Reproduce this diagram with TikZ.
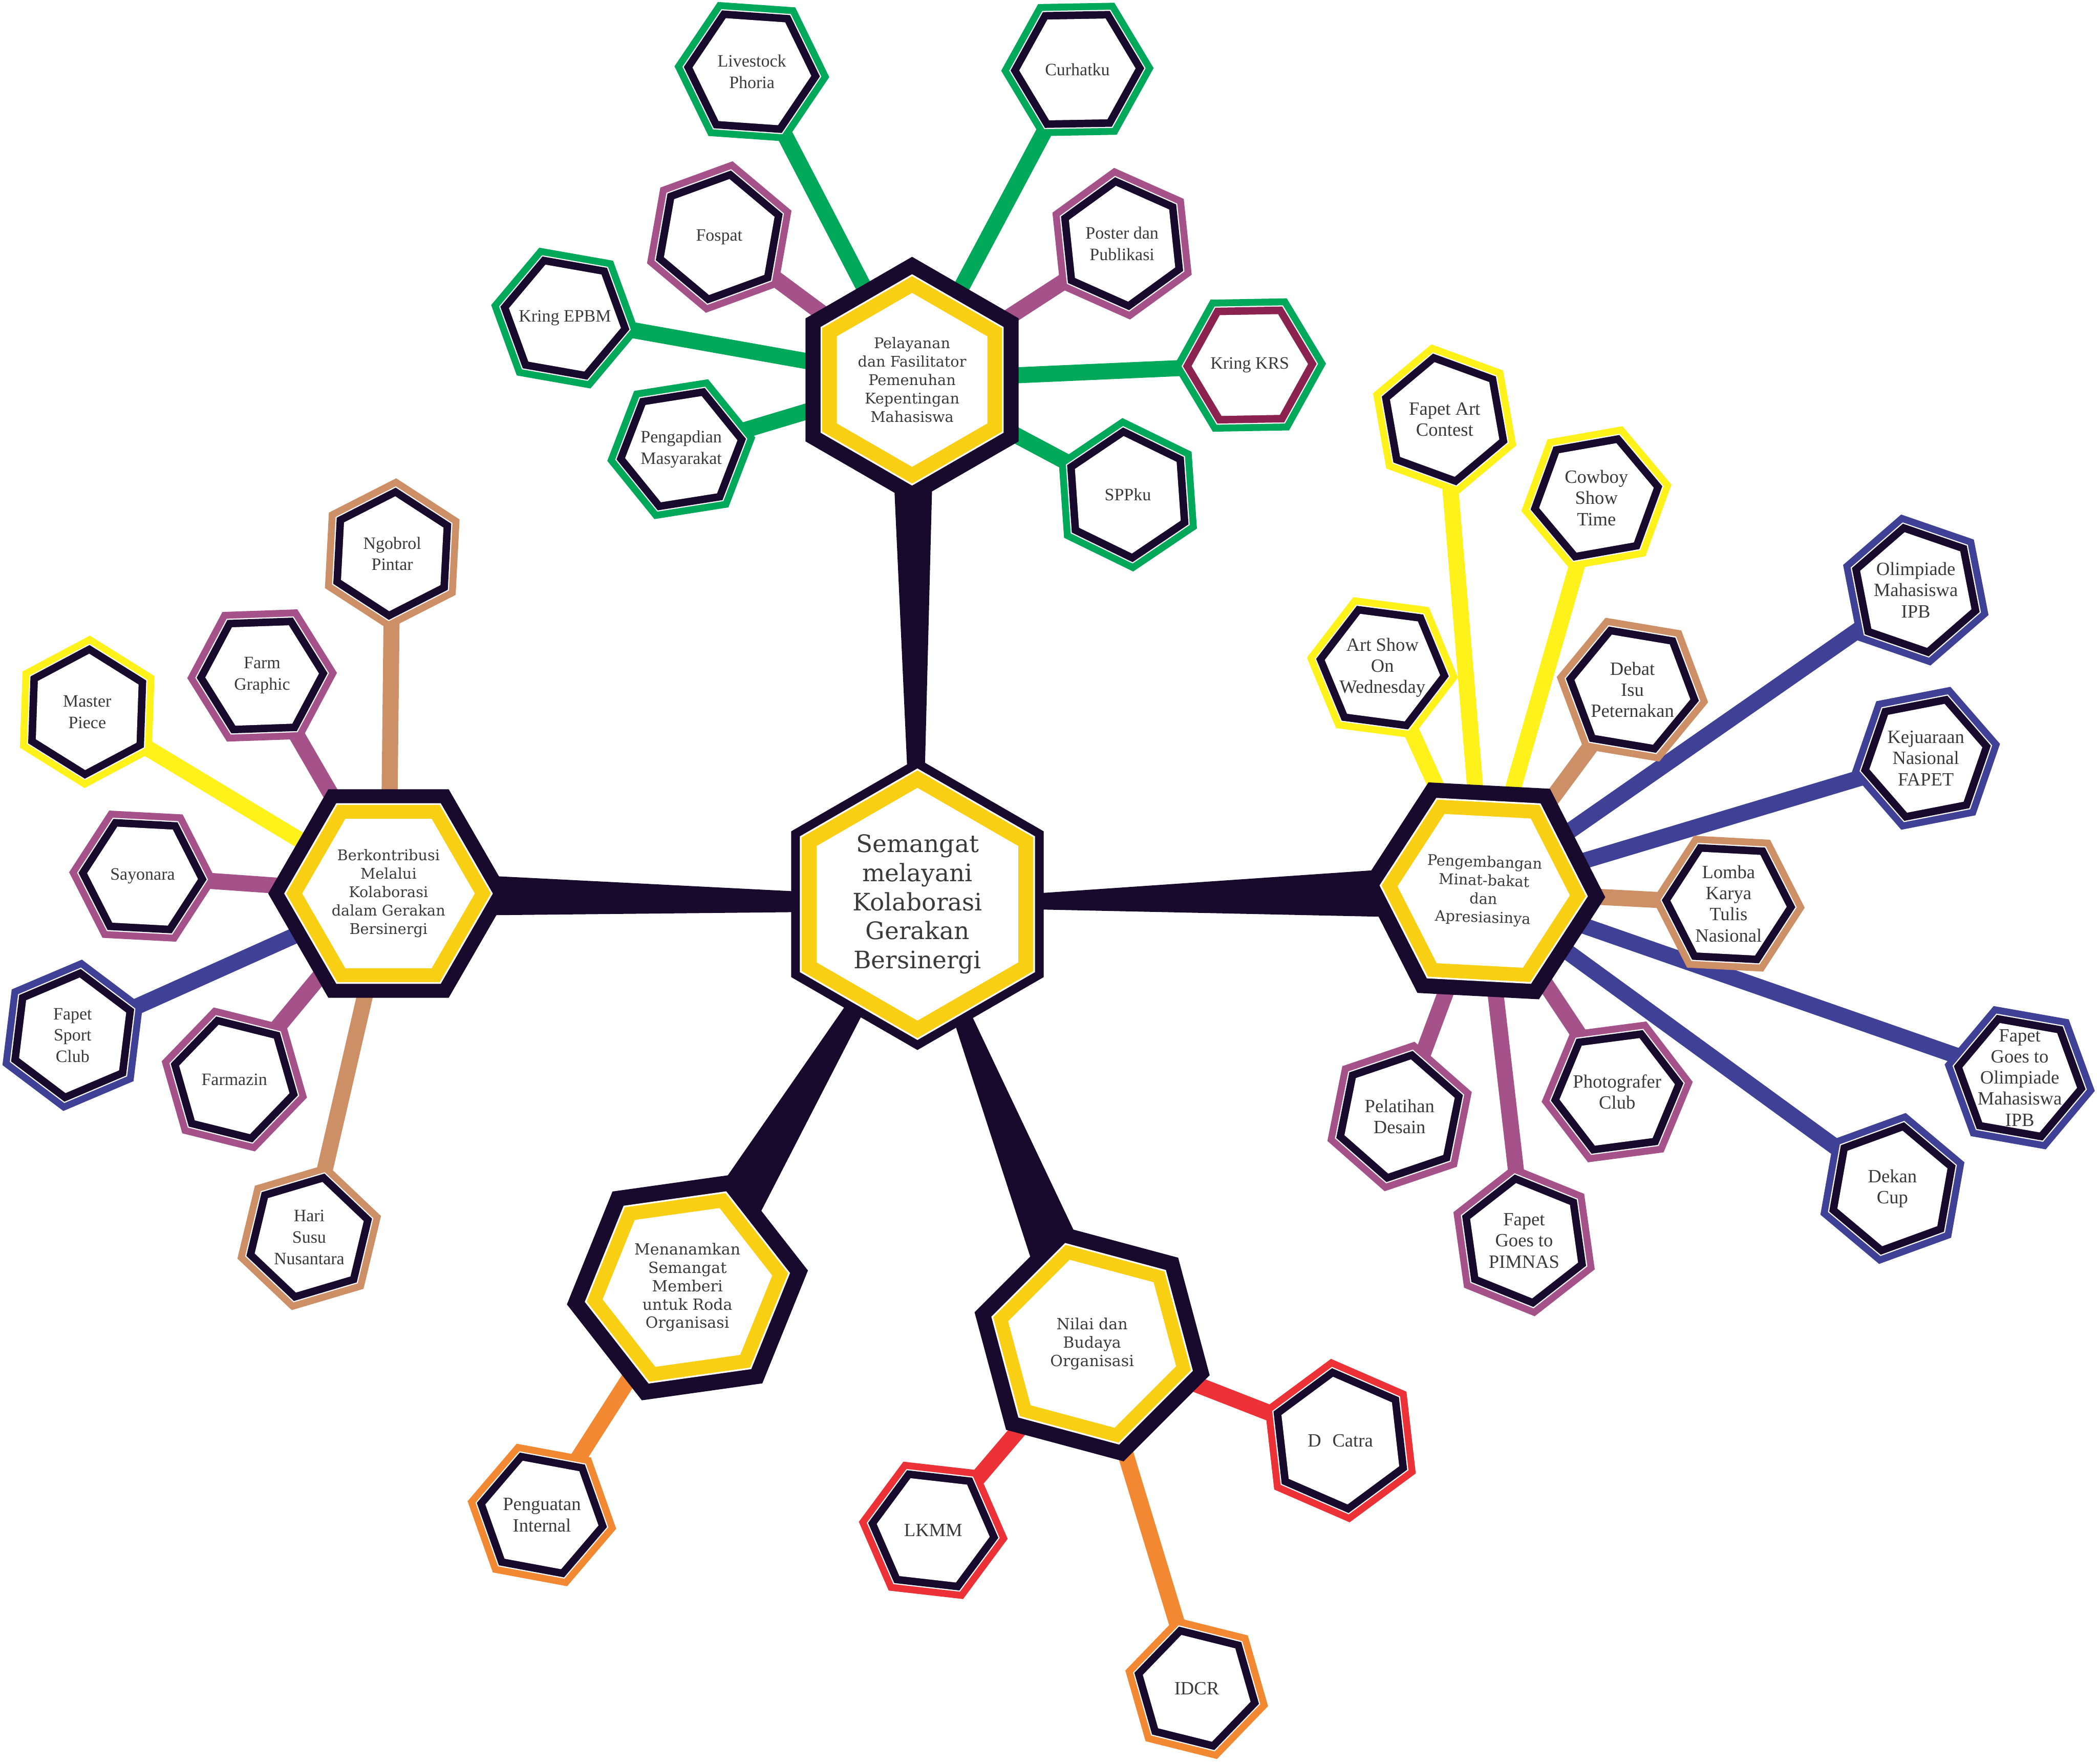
\documentclass[tikz,border=0pt]{standalone}
\usepackage{fontspec}
\setmainfont{Liberation Serif}
\newfontfamily\hubfont{DejaVu Serif}
\usetikzlibrary{shapes.geometric,calc,backgrounds}

\definecolor{hexdark}{HTML}{170A2D}
\definecolor{hubyellow}{HTML}{F9CF13}
\definecolor{kgreen}{HTML}{00A859}
\definecolor{kpurple}{HTML}{A5528A}
\definecolor{ktan}{HTML}{CD8F66}
\definecolor{kyellow}{HTML}{FFF11A}
\definecolor{kblue}{HTML}{3F4196}
\definecolor{kmaroon}{HTML}{8B2250}
\definecolor{korange}{HTML}{F38833}
\definecolor{kred}{HTML}{EC3237}
\definecolor{inktext}{HTML}{3A3A3A}

\tikzset{
  hexa/.style={regular polygon, regular polygon sides=6, inner sep=0pt, outer sep=0pt},
  leaftext/.style={align=center, text=inktext, font=\fontsize{13}{16}\selectfont},
  hubtext/.style={align=center, text=inktext, font=\hubfont\fontsize{11}{13.8}\selectfont},
  link/.style={line width=12pt},
}

% leaf: [band colour]{name}{position}{radius}{rotation}{ring colour}{text}
\newcommand{\leafhex}[7][hexdark]{%
  \node[hexa, rotate=#5, minimum size={#4*2pt}, fill=#6] (#2) at (#3) {};
  \node[hexa, rotate=#5, minimum size={(#4-6)*2pt}, fill=white] (#2-a) at (#3) {};
  \node[hexa, rotate=#5, minimum size={(#4-7)*2pt}, fill=#1] (#2-b) at (#3) {};
  \node[hexa, rotate=#5, minimum size={(#4-13.5)*2pt}, fill=white] (#2-c) at (#3) {};
  \node[leaftext] (#2-t) at (#3) {#7};
}

% hub: [text options]{name}{position}{radius}{rotation}{yellow outer}{yellow inner}{text}
\newcommand{\hubhex}[8][]{%
  \node[hexa, rotate=#5, minimum size={#4*2pt}, fill=hexdark] (#2) at (#3) {};
  \node[hexa, rotate=#5, minimum size={(#6+1.5)*2pt}, fill=white] (#2-a) at (#3) {};
  \node[hexa, rotate=#5, minimum size={#6*2pt}, fill=hubyellow] (#2-b) at (#3) {};
  \node[hexa, rotate=#5, minimum size={#7*2pt}, fill=white] (#2-c) at (#3) {};
  \node[hubtext, #1] (#2-t) at (#3) {#8};
}

% tapered dark spoke between two hubs
\newcommand{\spoke}[4]{%
  \fill[hexdark] ($(#1.center)!#3!90:(#2.center)$) -- ($(#2.center)!#4!-90:(#1.center)$)
    -- ($(#2.center)!#4!90:(#1.center)$) -- ($(#1.center)!#3!-90:(#2.center)$) -- cycle;
}

\begin{document}
\begin{tikzpicture}[x=1pt, y=-1pt]
\useasboundingbox (0,0) rectangle (1568,1318.6);

% hubs
\hubhex[font=\hubfont\fontsize{18}{21.7}\selectfont]{central}{686,676}{109}{30}{100}{87}{Semangat\\melayani\\Kolaborasi\\Gerakan\\Bersinergi}
\hubhex{pelayanan}{682,284}{92}{30}{77.5}{65}{Pelayanan\\dan Fasilitator\\Pemenuhan\\Kepentingan\\Mahasiswa}
\hubhex{berkontribusi}{290.5,668}{90}{0}{76.5}{64.5}{Berkontribusi\\Melalui\\Kolaborasi\\dalam Gerakan\\Bersinergi}
\hubhex[rotate=-2]{pengembangan}{1109.4,666}{91}{-3}{76.5}{64.5}{Pengembangan\\Minat-bakat\\dan\\Apresiasinya}
\hubhex[font=\hubfont\fontsize{11.5}{13.7}\selectfont]{menanamkan}{514,962.5}{91}{8}{76}{64}{Menanamkan\\Semangat\\Memberi\\untuk Roda\\Organisasi}
\hubhex[font=\hubfont\fontsize{11.5}{13.8}\selectfont]{nilai}{816.6,1004.6}{91}{-15}{76.5}{65}{Nilai dan\\Budaya\\Organisasi}

% top cluster
\leafhex{livestock}{562.2,53.6}{58}{-4}{kgreen}{Livestock\\Phoria}
\leafhex{curhatku}{805.6,51.9}{57}{1}{kgreen}{Curhatku}
\leafhex{fospat}{537.8,177.2}{57.5}{20}{kpurple}{Fospat}
\leafhex{poster}{839,182.2}{57}{-24}{kpurple}{Poster dan\\Publikasi}
\leafhex{epbm}{422.4,237.8}{56}{-10}{kgreen}{Kring EPBM}
\leafhex[kmaroon]{krs}{934.5,272.9}{57}{1}{kgreen}{Kring KRS}
\leafhex{pengapdian}{509.4,335.8}{56}{9}{kgreen}{Pengapdian\\Masyarakat}
\leafhex{sppku}{843.3,369.9}{57.5}{-26}{kgreen}{SPPku}

% left cluster
\leafhex{ngobrol}{293.3,414}{56.5}{27}{ktan}{Ngobrol\\Pintar}
\leafhex{farmgraphic}{196,505}{56}{2}{kpurple}{Farm\\Graphic}
\leafhex{masterpiece}{65.2,532.2}{57}{28}{kyellow}{Master\\Piece}
\leafhex{sayonara}{106.6,655}{55}{-3}{kpurple}{Sayonara}
\leafhex{sportclub}{54.3,774}{57}{23}{kblue}{Fapet\\Sport\\Club}
\leafhex{farmazin}{175.2,807}{56}{-14}{kpurple}{Farmazin}
\leafhex{harisusu}{231.2,925}{56}{16.5}{ktan}{Hari\\Susu\\Nusantara}

\begin{scope}[leaftext/.append style={font=\fontsize{14}{15.8}\selectfont}]
% right cluster
\leafhex{artcontest}{1080.2,313.6}{57}{-20}{kyellow}{Fapet Art\\Contest}
\leafhex{cowboy}{1193.7,372.2}{57}{10}{kyellow}{Cowboy\\Show\\Time}
\leafhex{artshow}{1033.7,499.1}{57}{-7.5}{kyellow}{Art Show\\On\\Wednesday}
\leafhex{debat}{1220.6,515.6}{57.4}{-9.5}{ktan}{Debat\\Isu\\Peternakan}
\leafhex{olimpiade}{1432.5,441.1}{57.5}{-19}{kblue}{Olimpiade\\Mahasiswa\\IPB}
\leafhex{kejuaraan}{1440,566.9}{56.5}{11}{kblue}{Kejuaraan\\Nasional\\FAPET}
\leafhex{lomba}{1292.5,675.6}{57}{-3}{ktan}{Lomba\\Karya\\Tulis\\Nasional}
\leafhex{goesolim}{1510.2,805.7}{57}{-10}{kblue}{Fapet\\Goes to\\Olimpiade\\Mahasiswa\\IPB}
\leafhex{dekan}{1415,888.5}{57.3}{20}{kblue}{Dekan\\Cup}
\leafhex{photografer}{1209.2,816.3}{57}{7.5}{kpurple}{Photografer\\Club}
\leafhex{pelatihan}{1046.5,834.7}{57}{18.7}{kpurple}{Pelatihan\\Desain}
\leafhex{pimnas}{1139.6,927.6}{57}{-22}{kpurple}{Fapet\\Goes to\\PIMNAS}

% bottom cluster
\leafhex{penguatan}{405.2,1132.6}{56.5}{-10.5}{korange}{Penguatan\\Internal}
\leafhex{lkmm}{697.8,1144.1}{56}{-6.5}{kred}{LKMM}
\leafhex{dcatra}{1002.2,1077}{61.5}{-23.5}{kred}{D\hspace{0.6em}Catra}
\leafhex{idcr}{894.8,1262.2}{55}{-14}{korange}{IDCR}
\end{scope}

\begin{pgfonlayer}{background}
  \fill[white] (0,0) rectangle (1568,1318.6);
  \spoke{central}{pelayanan}{3pt}{17pt}
  \spoke{central}{berkontribusi}{5pt}{17pt}
  \spoke{central}{pengembangan}{2pt}{21pt}
  \spoke{central}{menanamkan}{1pt}{23pt}
  \spoke{central}{nilai}{1pt}{24pt}
  \foreach \leaf/\col in {livestock/kgreen, curhatku/kgreen, fospat/kpurple, poster/kpurple,
      epbm/kgreen, krs/kgreen, pengapdian/kgreen, sppku/kgreen}
    \draw[link, \col] (\leaf.center) -- (pelayanan.center);
  \foreach \leaf/\col in {ngobrol/ktan, farmgraphic/kpurple, masterpiece/kyellow, sayonara/kpurple,
      sportclub/kblue, farmazin/kpurple, harisusu/ktan}
    \draw[link, \col] (\leaf.center) -- (berkontribusi.center);
  \foreach \leaf/\col in {artcontest/kyellow, cowboy/kyellow, artshow/kyellow, debat/ktan,
      olimpiade/kblue, kejuaraan/kblue, lomba/ktan, goesolim/kblue, dekan/kblue,
      photografer/kpurple, pelatihan/kpurple, pimnas/kpurple}
    \draw[link, \col] (\leaf.center) -- (pengembangan.center);
  \draw[link, korange] (penguatan.center) -- (menanamkan.center);
  \foreach \leaf/\col in {lkmm/kred, dcatra/kred, idcr/korange}
    \draw[link, \col] (\leaf.center) -- (nilai.center);
\end{pgfonlayer}
\end{tikzpicture}
\end{document}
